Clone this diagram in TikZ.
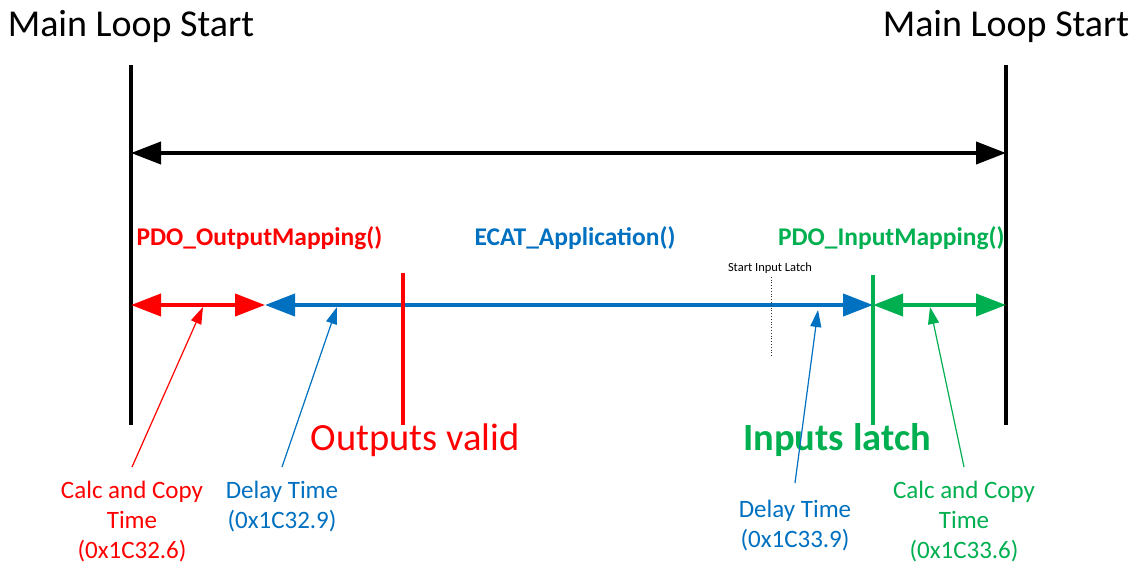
\documentclass[tikz,border=0pt]{standalone}
\usepackage{fontspec}
\setmainfont{Carlito}
\usetikzlibrary{arrows.meta}
\definecolor{outred}{HTML}{FF0000}
\definecolor{appblue}{HTML}{0070C0}
\definecolor{ingreen}{HTML}{00B050}

\begin{document}
\begin{tikzpicture}[x=1pt,y=-1pt,
  loopline/.style={line width=4pt},
  spanarrow/.style={line width=4pt,{Triangle[length=30pt,width=22pt]}-{Triangle[length=30pt,width=22pt]}},
  marker/.style={line width=3.5pt},
  pointer/.style={line width=1.2pt,-{Triangle[length=17pt,width=11pt]}},
  title/.style={font=\fontsize{38}{44}\selectfont},
  phase/.style={font=\fontsize{25.5}{30}\selectfont\bfseries},
  event/.style={font=\fontsize{38.5}{44}\selectfont},
  note/.style={font=\fontsize{25}{30}\selectfont,align=center}]
\useasboundingbox (0,0) rectangle (1139,565);

% loop boundaries
\foreach \x/\n in {131/L,1006/R}
  {\node[title] (title\n) at (\x,26) {Main Loop Start};
   \coordinate (top\n) at (\x,65);
   \coordinate (bot\n) at (\x,425);
   \draw[loopline] (top\n) -- (bot\n);}
\coordinate (loopL) at (131,153);
\coordinate (loopR) at (1006,153);
\draw[spanarrow] (loopL) -- (loopR);

% phases
\coordinate (p0) at (131,305);
\coordinate (p1) at (265,305);
\coordinate (p2) at (873,305);
\coordinate (p3) at (1006,305);
\draw[spanarrow,outred] (p0) -- (p1);
\draw[spanarrow,appblue] (p1) -- (p2);
\draw[spanarrow,ingreen] (p2) -- (p3);
\node[phase,outred,anchor=west] (outmap) at (133,238) {PDO\_OutputMapping()};
\node[phase,appblue] (app) at (575,238) {ECAT\_Application()};
\node[phase,ingreen,anchor=east] (inmap) at (1008,238) {PDO\_InputMapping()};

% events
\coordinate (outtop) at (403,273);
\coordinate (outbot) at (403,425);
\coordinate (intop) at (873,275);
\coordinate (inbot) at (873,425);
\draw[marker,outred] (outtop) -- (outbot);
\draw[marker,ingreen] (intop) -- (inbot);
\node[event,outred] (outvalid) at (415,440) {Outputs valid};
\node[event,ingreen,font=\fontsize{38.5}{44}\selectfont\bfseries] (inlatch) at (837,440) {Inputs latch};

\node[font=\fontsize{12.5}{14}\selectfont] (latch) at (770,268) {Start Input Latch};
\coordinate (latchbot) at (771,358);
\draw[dotted,line width=0.8pt,black!80] (latch.south -| latchbot) -- (latchbot);

% times
\node[note,outred,anchor=north] (calcout) at (132,478) {Calc and Copy\\Time\\(0x1C32.6)};
\node[note,appblue,anchor=north] (delayout) at (282,478) {Delay Time\\(0x1C32.9)};
\node[note,appblue,anchor=north] (delayin) at (795,497) {Delay Time\\(0x1C33.9)};
\node[note,ingreen,anchor=north] (calcin) at (964,478) {Calc and Copy\\Time\\(0x1C33.6)};
\coordinate (t1) at (203,307);
\coordinate (t2) at (337,307);
\coordinate (t3) at (818,310);
\coordinate (t4) at (930,307);
\draw[pointer,outred] ([yshift=11pt]calcout.north) -- (t1);
\draw[pointer,appblue] ([yshift=11pt]delayout.north) -- (t2);
\draw[pointer,appblue] ([yshift=14pt]delayin.north) -- (t3);
\draw[pointer,ingreen] ([yshift=11pt]calcin.north) -- (t4);
\end{tikzpicture}
\end{document}
